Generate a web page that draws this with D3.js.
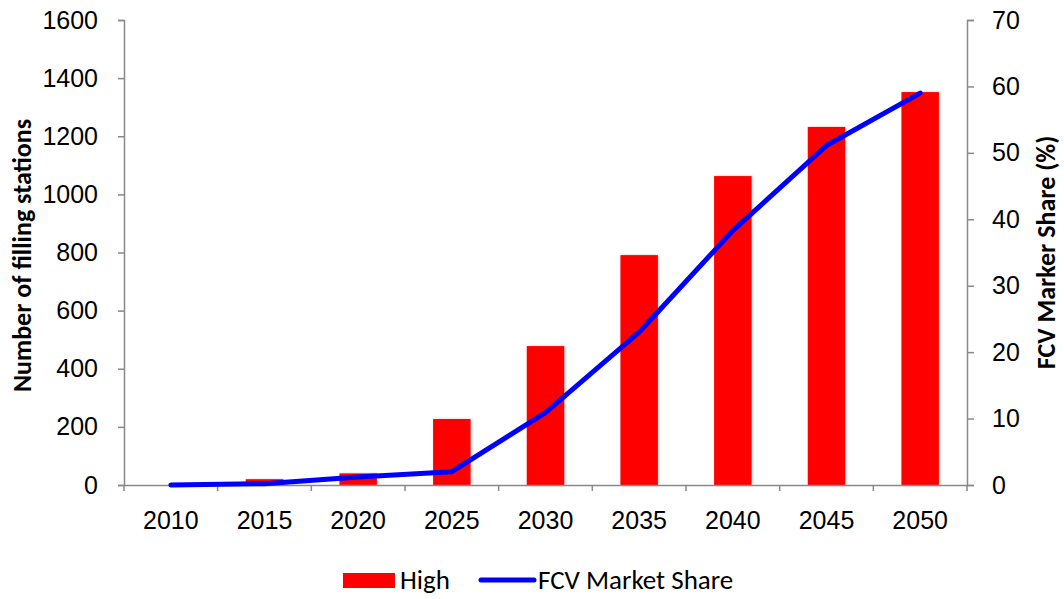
<!DOCTYPE html>
<html>
<head>
<meta charset="utf-8">
<script src="https://cdn.jsdelivr.net/npm/d3@7"></script>
<style>
  body { margin: 0; background: #fff; }
  svg { font-family: Carlito, Lato, "Open Sans", sans-serif; }
  .axis path, .axis line { stroke: #898989; stroke-width: 1.5; }
  .axis text { font-size: 25px; fill: #000; }
  .title { font-size: 26px; font-weight: bold; }
  .legend text { font-size: 27px; }
</style>
</head>
<body>
<svg id="chart" width="1064" height="599"></svg>
<script>
const years = ["2010", "2015", "2020", "2025", "2030", "2035", "2040", "2045", "2050"];
const stations = [0, 20, 40, 227, 478, 791, 1063, 1232, 1352];
const marketShare = [0, 0.2, 1.2, 2.0, 10.9, 23, 38.3, 51.1, 59];
const leftTicks = [0, 200, 400, 600, 800, 1000, 1200, 1400, 1600];
const rightTicks = [0, 10, 20, 30, 40, 50, 60, 70];

const svg = d3.select("#chart");
const margin = {top: 20, right: 97, bottom: 114, left: 124};
const innerWidth = 1064 - margin.left - margin.right;
const innerHeight = 599 - margin.top - margin.bottom;

const xBand = d3.scaleBand().domain(years).range([0, innerWidth]);
const yLeft = d3.scaleLinear().domain([0, 1600]).range([innerHeight, 0]);
const yRight = d3.scaleLinear().domain([0, 70]).range([innerHeight, 0]);

const defs = svg.append("defs");
const f = defs.append("filter").attr("id", "shadow").attr("x", "-20%").attr("y", "-5%").attr("width", "140%").attr("height", "110%");
f.append("feDropShadow").attr("dx", 1).attr("dy", 0).attr("stdDeviation", 1.5).attr("flood-color", "#000").attr("flood-opacity", 0.2);

const g = svg.append("g").attr("transform", `translate(${margin.left},${margin.top})`);

// Bars
g.append("g").selectAll("rect")
  .data(stations)
  .join("rect")
  .attr("x", (d, i) => xBand(years[i]) + xBand.bandwidth() * 0.3)
  .attr("width", xBand.bandwidth() * 0.4)
  .attr("y", d => yLeft(d))
  .attr("height", d => innerHeight - yLeft(d))
  .attr("fill", "#ff0000")
  .attr("filter", "url(#shadow)");

// Axes
const gx = g.append("g").attr("class", "axis")
  .attr("transform", `translate(0,${innerHeight})`)
  .call(d3.axisBottom(xBand).tickSize(0).tickPadding(26));
// category boundary ticks
gx.selectAll(".bnd").data(d3.range(years.length + 1))
  .join("line")
  .attr("x1", i => i * xBand.step()).attr("x2", i => i * xBand.step())
  .attr("y1", 0).attr("y2", 6)
  .attr("stroke", "#898989").attr("stroke-width", 1.5);

g.append("g").attr("class", "axis")
  .call(d3.axisLeft(yLeft).tickValues(leftTicks).tickFormat(d3.format("d"))
    .tickSizeInner(6).tickSizeOuter(6).tickPadding(20));

g.append("g").attr("class", "axis")
  .attr("transform", `translate(${innerWidth},0)`)
  .call(d3.axisRight(yRight).tickValues(rightTicks).tickFormat(d3.format("d"))
    .tickSizeInner(7).tickSizeOuter(7).tickPadding(18));

// Line
const line = d3.line()
  .x((d, i) => xBand(years[i]) + xBand.bandwidth() / 2)
  .y(d => yRight(d));
g.append("path")
  .datum(marketShare)
  .attr("d", line)
  .attr("fill", "none")
  .attr("stroke", "#0000ff")
  .attr("stroke-width", 5)
  .attr("stroke-linecap", "round")
  .attr("stroke-linejoin", "round");

// Axis titles
svg.append("text").attr("class", "title")
  .attr("transform", `translate(31,${margin.top + innerHeight / 2 + 3}) rotate(-90)`)
  .attr("text-anchor", "middle")
  .text("Number of filling stations");
svg.append("text").attr("class", "title")
  .attr("transform", `translate(1055,${margin.top + innerHeight / 2}) rotate(-90)`)
  .attr("text-anchor", "middle")
  .text("FCV Marker Share (%)");

// Legend
const lg = svg.append("g").attr("class", "legend").attr("transform", "translate(343,580)");
lg.append("rect").attr("x", 0).attr("y", -7).attr("width", 52).attr("height", 15).attr("fill", "#ff0000");
lg.append("text").attr("x", 57).attr("y", 9).text("High");
lg.append("line").attr("x1", 138).attr("x2", 191).attr("y1", 0).attr("y2", 0)
  .attr("stroke", "#0000ff").attr("stroke-width", 5).attr("stroke-linecap", "round");
lg.append("text").attr("x", 195).attr("y", 9).text("FCV Market Share");
</script>
</body>
</html>
